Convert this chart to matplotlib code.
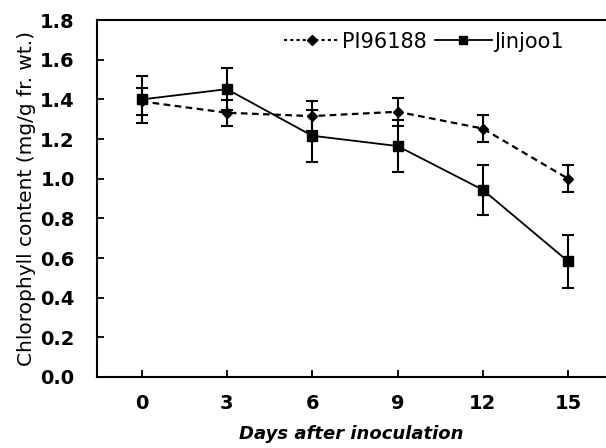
import numpy as np
import matplotlib
matplotlib.use('Agg')
import matplotlib.pyplot as plt
from matplotlib.lines import Line2D

days = [0, 3, 6, 9, 12, 15]
pi96188 = [1.39, 1.333, 1.316, 1.338, 1.253, 1.0]
pi96188_err = [0.07, 0.065, 0.077, 0.07, 0.067, 0.067]
jinjoo1 = [1.40, 1.452, 1.217, 1.165, 0.944, 0.583]
jinjoo1_err = [0.12, 0.105, 0.13, 0.13, 0.125, 0.132]

yticks = [0.0, 0.2, 0.4, 0.6, 0.8, 1.0, 1.2, 1.4, 1.6, 1.8]

plt.rcParams['font.family'] = ['DejaVu Sans']

fig = plt.figure(figsize=(6.06, 4.48), dpi=100)
ax = fig.add_axes([0.160, 0.1585, 0.84, 0.7965])

ax.errorbar(days, pi96188, yerr=pi96188_err, color='black', lw=1.6,
            dashes=(3, 2), marker='D', ms=5.5, capsize=4, capthick=1.5,
            elinewidth=1.5)
ax.errorbar(days, jinjoo1, yerr=jinjoo1_err, color='black', lw=1.3,
            marker='s', ms=6.5, capsize=4, capthick=1.5,
            elinewidth=1.5)

ax.set_xlim(-1.57, 16.33)
ax.set_ylim(0, 1.8)
ax.set_xticks(days)
ax.set_yticks(yticks)
ax.set_yticklabels(['%.1f' % t for t in yticks])
ax.spines['right'].set_visible(False)
for s in ['left', 'top', 'bottom']:
    ax.spines[s].set_linewidth(1.5)
ax.tick_params(direction='in', length=5, width=1.3, labelsize=14)
ax.tick_params(axis='y', pad=16)
ax.tick_params(axis='x', pad=12)
for lab in ax.get_xticklabels() + ax.get_yticklabels():
    lab.set_fontweight('bold')

ax.set_ylabel('Chlorophyll content (mg/g fr. wt.)', fontsize=14.5, labelpad=3)
ax.set_xlabel('Days after inoculation', fontsize=13, fontweight='bold',
              style='italic', labelpad=9)

handles = [
    Line2D([], [], color='black', lw=1.5, ls=(0, (1.5, 1.5)), marker='D', ms=5),
    Line2D([], [], color='black', lw=1.3, marker='s', ms=6),
]
ax.legend(handles, ['PI96188', 'Jinjoo1'], loc='upper right',
          bbox_to_anchor=(0.953, 1.02), ncol=2, frameon=False,
          fontsize=15, handlelength=2.7, columnspacing=0.4, handletextpad=0.1)

fig.savefig('out.png', dpi=100)
